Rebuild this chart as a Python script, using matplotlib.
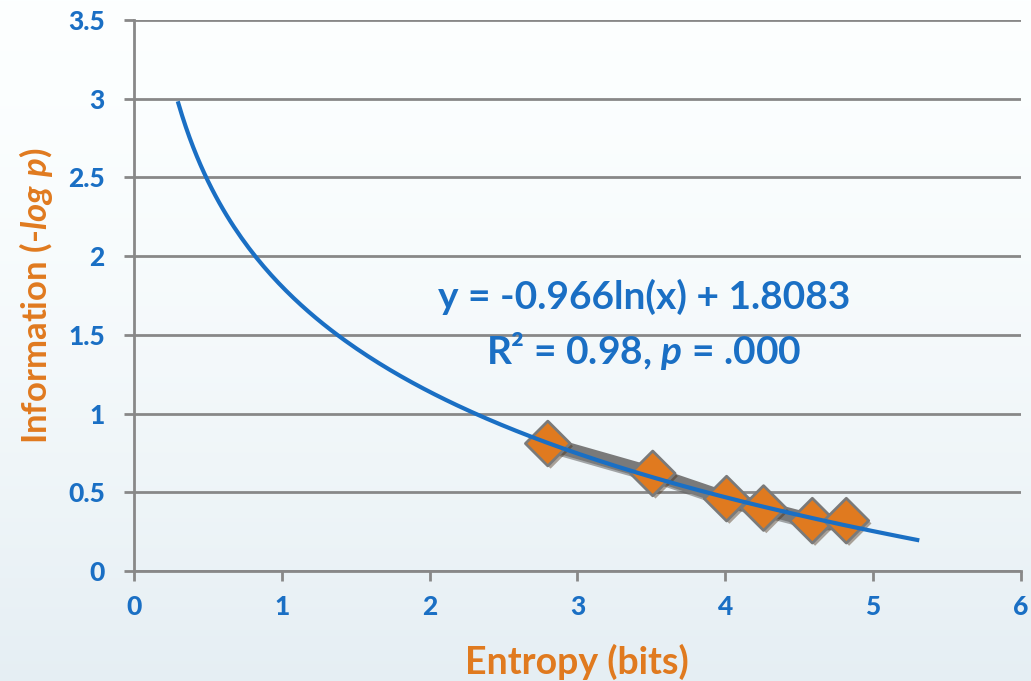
import numpy as np
import matplotlib; matplotlib.use("Agg")
import matplotlib.pyplot as plt
import matplotlib.patheffects as pe

# data
entropy = [2.80, 3.51, 4.01, 4.26, 4.59, 4.82]
information = [0.81, 0.62, 0.46, 0.40, 0.32, 0.32]
# logarithmic trendline as printed on the chart
slope, intercept = -0.966, 1.8083
trend_x = np.linspace(0.3, 5.3, 200)
trend_y = slope * np.log(trend_x) + intercept

xticks = [0, 1, 2, 3, 4, 5, 6]
yticks = [0, 0.5, 1, 1.5, 2, 2.5, 3, 3.5]
ytick_labels = ["0", "0.5", "1", "1.5", "2", "2.5", "3", "3.5"]

BLUE = "#1a6fc4"; ORANGE = "#e07a1f"; GREY = "#888888"
FONT = "Lato"
plt.rcParams["mathtext.fontset"] = "custom"
plt.rcParams["mathtext.it"] = "Lato:italic:bold"
plt.rcParams["mathtext.rm"] = "Lato:bold"

fig = plt.figure(figsize=(10.31, 6.81), dpi=100)
bg = fig.add_axes([0, 0, 1, 1], zorder=-10); bg.axis("off")
grad = np.linspace(0, 1, 256)[:, None]
top = np.array([0.99, 1.0, 1.0]); bot = np.array([0.90, 0.935, 0.955])
img = top + (bot - top) * grad[..., None] ** 1.5
bg.imshow(img, aspect="auto", extent=[0, 1, 0, 1])

ax = fig.add_axes([0.130, 0.1615, 0.860, 0.809])
ax.patch.set_alpha(0)
ax.set_xlim(0, 6); ax.set_ylim(0, 3.5)
ax.set_xticks(xticks); ax.set_yticks(yticks)
ax.set_xticklabels([str(t) for t in xticks])
ax.set_yticklabels(ytick_labels)
for lab in ax.get_xticklabels() + ax.get_yticklabels():
    lab.set_fontfamily(FONT); lab.set_fontweight("black"); lab.set_fontsize(19); lab.set_color(BLUE)
ax.tick_params(axis="both", color=GREY, width=2, length=7, direction="out")
ax.tick_params(axis="x", pad=10); ax.tick_params(axis="y", pad=14)
for s in ["top", "right"]: ax.spines[s].set_visible(False)
for s in ["left", "bottom"]:
    ax.spines[s].set_color(GREY); ax.spines[s].set_linewidth(2)
ax.grid(axis="y", color=GREY, linewidth=2)
ax.set_axisbelow(True)

shadow = [pe.SimpleLineShadow(offset=(2, -2), shadow_color="#555555", alpha=0.5), pe.Normal()]
ax.plot(entropy, information, color="#7a7a7a", linewidth=10, solid_capstyle="round",
        path_effects=shadow, zorder=3)
ax.scatter(entropy, information, marker="D", s=520, color=ORANGE, edgecolor="#7a7a7a",
           linewidth=2, zorder=5,
           path_effects=[pe.SimplePatchShadow(offset=(2, -2), alpha=0.4), pe.Normal()])
# trend line passes over the markers in the original
ax.plot(trend_x, trend_y, color=BLUE, linewidth=3, zorder=6)

ax.text(3.45, 1.74, "y = -0.966ln(x) + 1.8083", fontsize=28, fontweight="bold",
        color=BLUE, family=FONT, ha="center", va="center")
ax.text(3.45, 1.40, r"R² = 0.98, $\it{p}$ = .000", fontsize=28, fontweight="bold",
        color=BLUE, family=FONT, ha="center", va="center")

ax.set_xlabel("Entropy (bits)", fontsize=27, fontweight="bold", color=ORANGE, family=FONT, labelpad=18)
ax.set_ylabel(r"Information (-$\it{log\ p}$)", fontsize=25, fontweight="bold", color=ORANGE,
              family=FONT, labelpad=9)

fig.savefig("out.png", dpi=100)
